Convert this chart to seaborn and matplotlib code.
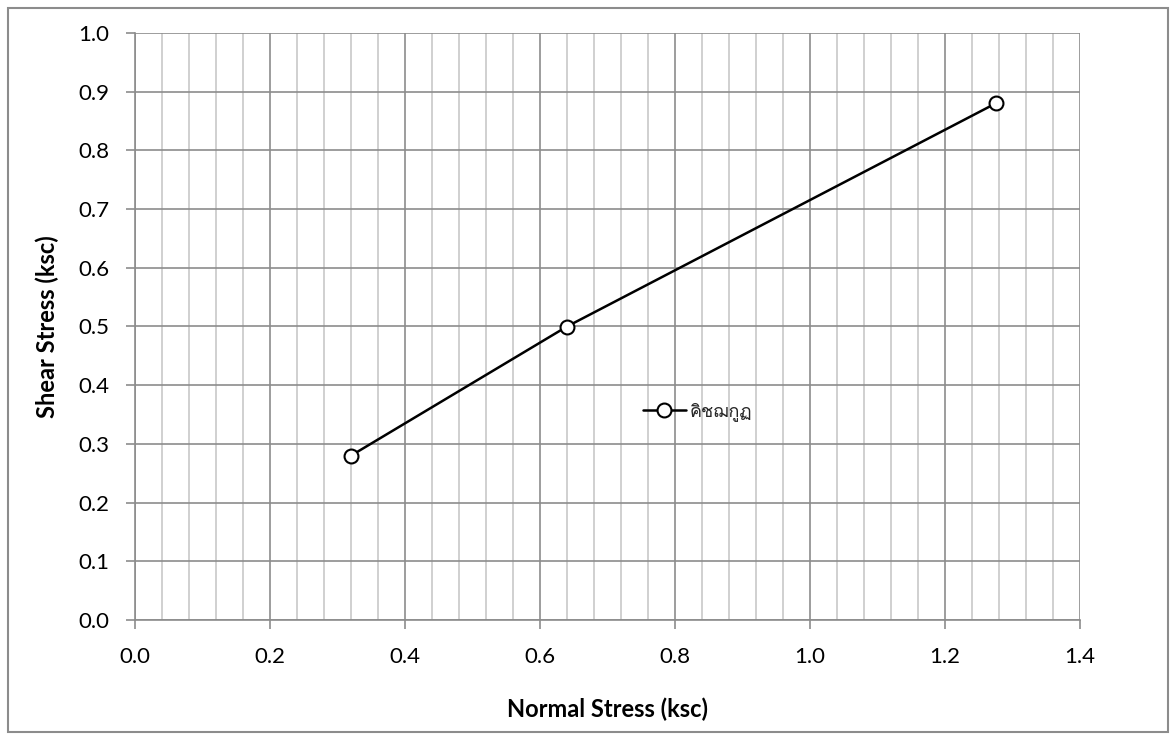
import matplotlib
matplotlib.use("Agg")
import matplotlib.pyplot as plt
import seaborn as sns
import pandas as pd
from matplotlib.ticker import MultipleLocator, FormatStrFormatter
from matplotlib import font_manager

normal_stress = [0.32, 0.64, 1.275]
shear_stress = [0.28, 0.50, 0.88]
series_name = "คิชฌกูฏ"

# find a font with Thai glyphs
thai_font = None
try:
    from fontTools.ttLib import TTFont
    for f in font_manager.fontManager.ttflist:
        try:
            tt = TTFont(f.fname, fontNumber=0, lazy=True)
            cmap = tt.getBestCmap()
            if cmap and 0x0E04 in cmap and 0x0E0C in cmap:
                thai_font = f.name
                break
        except Exception:
            pass
except Exception:
    pass

sns.set_theme(style="white")
plt.rcParams['font.family'] = ['Lato', 'DejaVu Sans']

df = pd.DataFrame({"x": normal_stress, "y": shear_stress, "s": [series_name] * len(normal_stress)})

fig = plt.figure(figsize=(11.76, 7.4), dpi=100)
ax = fig.add_axes([135/1176, 1-620/740, 945/1176, 587/740])

sns.lineplot(data=df, x="x", y="y", hue="s", palette=["black"], marker="o",
             markersize=10, markerfacecolor="white", markeredgecolor="black",
             markeredgewidth=1.5, linewidth=1.8, ax=ax, zorder=5)

ax.set_xlim(0, 1.4)
ax.set_ylim(0, 1.0)
ax.xaxis.set_major_locator(MultipleLocator(0.2))
ax.xaxis.set_minor_locator(MultipleLocator(0.04))
ax.yaxis.set_major_locator(MultipleLocator(0.1))
ax.xaxis.set_major_formatter(FormatStrFormatter('%.1f'))
ax.yaxis.set_major_formatter(FormatStrFormatter('%.1f'))
ax.grid(which='major', color='#8c8c8c', linewidth=1.2)
ax.grid(which='minor', axis='x', color='#c8c8c8', linewidth=1.2)
ax.set_axisbelow(True)
for side in ['top', 'right']:
    ax.spines[side].set_visible(False)
for side in ['left', 'bottom']:
    ax.spines[side].set_color('#8c8c8c')
    ax.spines[side].set_linewidth(1.2)
ax.tick_params(which='major', direction='out', length=6.5, width=1.2, color='#8c8c8c',
               labelsize=16, bottom=True, left=True, labelcolor='black')
ax.tick_params(which='minor', length=0)
ax.tick_params(axis='x', pad=13)
ax.tick_params(axis='y', pad=12)

ax.set_xlabel("Normal Stress (ksc)", fontsize=17, fontweight='bold', labelpad=22, color='black')
ax.set_ylabel("Shear Stress (ksc)", fontsize=17, fontweight='bold', labelpad=14, color='black')

handles, labels = ax.get_legend_handles_labels()
fams = [thai_font, 'DejaVu Sans'] if thai_font else ['DejaVu Sans']
leg = ax.legend(handles, labels, loc='center left', bbox_to_anchor=(0.52, 0.355),
                frameon=False, prop={'family': fams, 'size': 13},
                handlelength=2.4, handletextpad=0.2)

border = plt.Rectangle((8/1176, 8/740), 1160/1176, 724/740, transform=fig.transFigure,
                       fill=False, edgecolor='#8c8c8c', linewidth=1.5)
fig.patches.append(border)

fig.savefig("out.png", dpi=100, facecolor='white')
